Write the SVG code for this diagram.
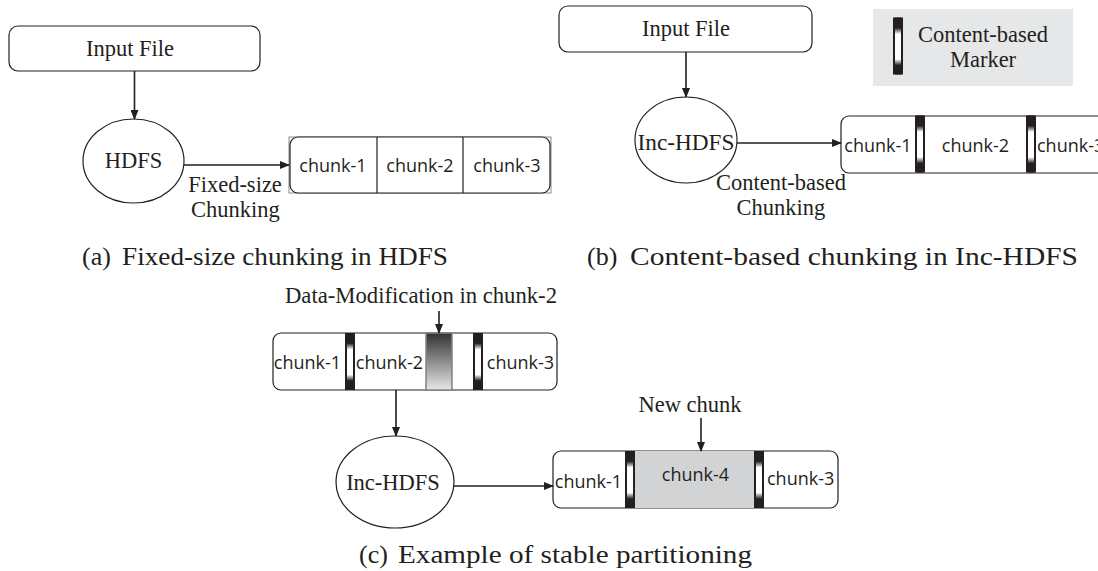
<svg xmlns="http://www.w3.org/2000/svg" xmlns:xlink="http://www.w3.org/1999/xlink" width="1098" height="571" viewBox="0 0 1098 571">
  <style>
    .box { fill: #ffffff; stroke: #231f20; stroke-width: 1.2; }
    .ell { fill: #ffffff; stroke: #231f20; stroke-width: 1.2; }
    .edge { fill: none; stroke: #231f20; stroke-width: 1.6; }
    .div { stroke: #231f20; stroke-width: 1.2; }
    .serif { font-family: "Liberation Serif", "Times New Roman", serif; font-size: 22.5px; fill: #231f20; }
    .sans { font-family: "Open Sans", "Noto Sans", sans-serif; font-size: 18px; fill: #231f20; }
    .cap { font-family: "Liberation Serif", "Times New Roman", serif; font-size: 26px; fill: #231f20; }
    .mid { text-anchor: middle; }
  </style>
  <defs>
    <marker id="arrow" markerWidth="10" markerHeight="8" refX="9" refY="4" orient="auto" markerUnits="userSpaceOnUse">
      <path d="M0,0 L10,4 L0,8 Z" fill="#231f20"/>
    </marker>
    <!-- white core of a content-based marker, fading to black at both ends -->
    <linearGradient id="markCore" x1="0" y1="0" x2="0" y2="1">
      <stop offset="0" stop-color="#231f20"/>
      <stop offset="0.18" stop-color="#231f20"/>
      <stop offset="0.29" stop-color="#ffffff"/>
      <stop offset="0.73" stop-color="#ffffff"/>
      <stop offset="0.84" stop-color="#231f20"/>
      <stop offset="1" stop-color="#231f20"/>
    </linearGradient>
    <!-- modified region: dark at the top, light at the bottom -->
    <linearGradient id="modFill" x1="0" y1="0" x2="0" y2="1">
      <stop offset="0" stop-color="#333132"/>
      <stop offset="1" stop-color="#e6e7e8"/>
    </linearGradient>
    <g id="mark">
      <rect x="0" y="0" width="10" height="57" fill="#231f20"/>
      <rect x="2" y="0" width="6" height="57" fill="url(#markCore)"/>
    </g>
  </defs>

  <!-- (a) fixed-size chunking -->
  <g id="a-input">
    <rect class="box" x="9" y="26" width="251" height="45" rx="9"/>
    <text class="serif mid" x="130" y="56">Input File</text>
  </g>
  <g id="a-hdfs">
    <ellipse class="ell" cx="133.5" cy="161" rx="50.5" ry="42"/>
    <text class="serif mid" x="133.5" y="168">HDFS</text>
  </g>
  <g id="a-chunks">
    <rect x="289" y="137" width="262" height="56" fill="#ffffff" stroke="#6d6e71" stroke-width="0.8"/>
    <rect class="box" x="290" y="137" width="260" height="56" rx="8"/>
    <line class="div" x1="377" y1="137" x2="377" y2="193"/>
    <line class="div" x1="463" y1="137" x2="463" y2="193"/>
    <text class="sans mid" x="333" y="172">chunk-1</text>
    <text class="sans mid" x="420" y="172">chunk-2</text>
    <text class="sans mid" x="507" y="172">chunk-3</text>
  </g>
  <g id="a-label">
    <text class="serif mid" x="235" y="192">Fixed-size</text>
    <text class="serif mid" x="235.5" y="217">Chunking</text>
  </g>

  <!-- (b) content-based chunking -->
  <g id="b-input">
    <rect class="box" x="559" y="6" width="253" height="46" rx="9"/>
    <text class="serif mid" x="686" y="36">Input File</text>
  </g>
  <g id="b-inchdfs">
    <ellipse class="ell" cx="686" cy="140" rx="51" ry="43"/>
    <text class="serif mid" x="686" y="150" textLength="97" lengthAdjust="spacingAndGlyphs">Inc-HDFS</text>
  </g>
  <g id="b-chunks">
    <rect class="box" x="841" y="116" width="270" height="57" rx="8"/>
    <use xlink:href="#mark" x="915" y="115.5"/>
    <use xlink:href="#mark" x="1026" y="115.5"/>
    <text class="sans mid" x="878" y="152">chunk-1</text>
    <text class="sans mid" x="975.5" y="152">chunk-2</text>
    <text class="sans" x="1037" y="152">chunk-3</text>
  </g>
  <g id="b-label">
    <text class="serif mid" x="781" y="190">Content-based</text>
    <text class="serif mid" x="781" y="215">Chunking</text>
  </g>
  <g id="legend">
    <rect x="873" y="9" width="200" height="77" fill="#e6e7e8"/>
    <use xlink:href="#mark" x="893" y="17.5"/>
    <text class="serif mid" x="983" y="42">Content-based</text>
    <text class="serif mid" x="983" y="67">Marker</text>
  </g>

  <!-- (c) stable partitioning -->
  <g id="c-modified">
    <text class="serif mid" x="421" y="303" textLength="272" lengthAdjust="spacingAndGlyphs">Data-Modification in chunk-2</text>
    <rect class="box" x="273" y="333" width="284" height="57" rx="8"/>
    <use xlink:href="#mark" x="345" y="333"/>
    <rect x="426" y="333" width="26" height="57" fill="url(#modFill)" stroke="#808285" stroke-width="1.5"/>
    <use xlink:href="#mark" x="473" y="333"/>
    <text class="sans mid" x="307.5" y="369">chunk-1</text>
    <text class="sans mid" x="389.5" y="369">chunk-2</text>
    <text class="sans mid" x="520.5" y="369">chunk-3</text>
  </g>
  <g id="c-inchdfs">
    <ellipse class="ell" cx="395" cy="482" rx="59" ry="46"/>
    <text class="serif mid" x="393" y="490" font-size="24.5">Inc-HDFS</text>
  </g>
  <g id="c-chunks">
    <rect class="box" x="553" y="451" width="285" height="57" rx="8"/>
    <rect x="634" y="451" width="120" height="57" fill="#d1d3d4"/>
    <use xlink:href="#mark" x="625" y="451"/>
    <use xlink:href="#mark" x="754" y="451"/>
    <text class="sans mid" x="588.5" y="488">chunk-1</text>
    <text class="sans mid" x="695.5" y="481">chunk-4</text>
    <text class="sans" x="767" y="485">chunk-3</text>
    <text class="serif mid" x="690" y="412">New chunk</text>
  </g>

  <!-- connectors -->
  <g id="connectors">
    <line class="edge" x1="134.5" y1="71" x2="134.5" y2="119" marker-end="url(#arrow)"/>
    <line class="edge" x1="184" y1="165" x2="289" y2="165" marker-end="url(#arrow)"/>
    <line class="edge" x1="686" y1="52" x2="686" y2="97" marker-end="url(#arrow)"/>
    <line class="edge" x1="737" y1="143" x2="841" y2="143" marker-end="url(#arrow)"/>
    <line class="edge" x1="439" y1="311" x2="439" y2="333" marker-end="url(#arrow)"/>
    <line class="edge" x1="396" y1="390" x2="396" y2="436" marker-end="url(#arrow)"/>
    <line class="edge" x1="454" y1="486" x2="553" y2="486" marker-end="url(#arrow)"/>
    <line class="edge" x1="701" y1="418" x2="701" y2="451" marker-end="url(#arrow)"/>
  </g>

  <!-- captions -->
  <g id="captions">
    <text class="cap" y="265"><tspan x="82">(a)</tspan><tspan x="122" textLength="326" lengthAdjust="spacingAndGlyphs">Fixed-size chunking in HDFS</tspan></text>
    <text class="cap" y="265"><tspan x="587">(b)</tspan><tspan x="630" textLength="448" lengthAdjust="spacingAndGlyphs">Content-based chunking in Inc-HDFS</tspan></text>
    <text class="cap" y="563"><tspan x="359">(c)</tspan><tspan x="398" textLength="354" lengthAdjust="spacingAndGlyphs">Example of stable partitioning</tspan></text>
  </g>
</svg>
